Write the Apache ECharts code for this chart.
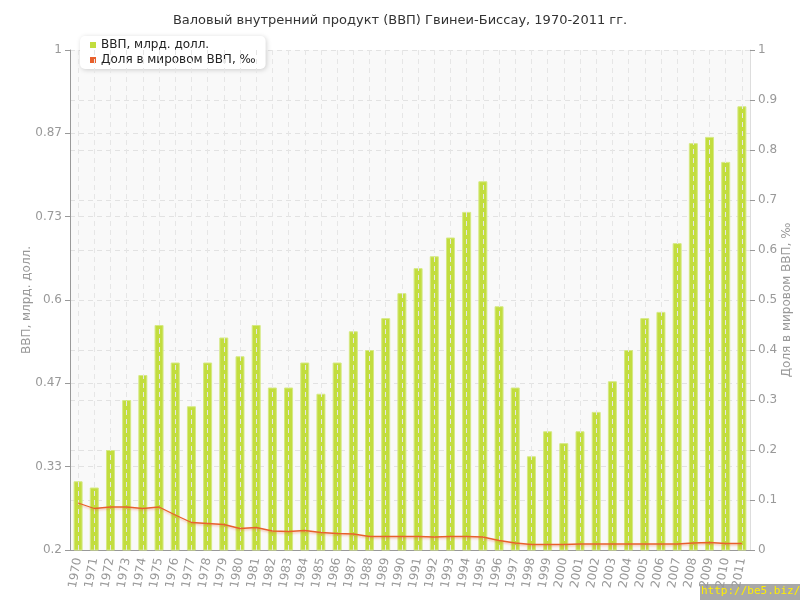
<!DOCTYPE html>
<html>
<head>
<meta charset="utf-8">
<script src="https://cdn.jsdelivr.net/npm/echarts@6/dist/echarts.min.js"></script>
<style>html,body{margin:0;padding:0;background:#fff}#c{width:800px;height:600px}</style>
</head>
<body>
<div id="c"></div>
<script>
var categories = ['1970','1971','1972','1973','1974','1975','1976','1977','1978','1979','1980','1981','1982','1983','1984','1985','1986','1987','1988','1989','1990','1991','1992','1993','1994','1995','1996','1997','1998','1999','2000','2001','2002','2003','2004','2005','2006','2007','2008','2009','2010','2011'];
var gdp = [0.310,0.300,0.360,0.440,0.480,0.560,0.500,0.430,0.500,0.540,0.510,0.560,0.460,0.460,0.500,0.450,0.500,0.550,0.520,0.571,0.611,0.651,0.670,0.700,0.741,0.790,0.590,0.460,0.350,0.390,0.371,0.390,0.421,0.470,0.520,0.571,0.581,0.691,0.851,0.861,0.821,0.910];
var share = [0.094,0.083,0.086,0.086,0.083,0.086,0.070,0.055,0.053,0.051,0.043,0.045,0.038,0.037,0.039,0.035,0.033,0.032,0.027,0.027,0.027,0.027,0.026,0.027,0.027,0.026,0.019,0.014,0.011,0.011,0.011,0.012,0.012,0.012,0.012,0.012,0.012,0.012,0.014,0.015,0.013,0.013];
var seriesNames = ['ВВП, млрд. долл.', 'Доля в мировом ВВП, ‰'];
var titleText = 'Валовый внутренний продукт (ВВП) Гвинеи-Биссау, 1970-2011 гг.';

var chart = echarts.init(document.getElementById('c'));
var font = 'DejaVu Sans, Verdana, sans-serif';
var vLines = categories.map(function (c) { return { xAxis: c }; });

chart.setOption({
  animation: false,
  textStyle: { fontFamily: font },
  title: {
    text: titleText, left: 'center', top: 9,
    textStyle: { fontSize: 13, fontWeight: 'normal', color: '#333', fontFamily: font }
  },
  legend: {
    orient: 'vertical', left: 80, top: 36,
    data: [
      { name: seriesNames[0], icon: 'rect', itemStyle: { color: '#c2dd3e', borderWidth: 0 } },
      { name: seriesNames[1], icon: 'rect', itemStyle: { color: '#e8602c', borderWidth: 0 } }
    ],
    backgroundColor: '#fff', borderRadius: 5,
    shadowBlur: 5, shadowColor: 'rgba(0,0,0,0.18)', shadowOffsetX: 1, shadowOffsetY: 1,
    padding: [3, 10, 3, 10], itemGap: 3,
    itemWidth: 6, itemHeight: 6,
    textStyle: { fontSize: 12, color: '#222', fontFamily: font }
  },
  grid: {
    left: 70, right: 50, top: 50, bottom: 50,
    outerBoundsMode: 'none', containLabel: false,
    show: true, backgroundColor: '#f9f9f9', borderWidth: 0
  },
  xAxis: {
    type: 'category', data: categories, boundaryGap: true,
    axisLine: { lineStyle: { color: '#999' } },
    axisTick: { alignWithLabel: true, length: 5, lineStyle: { color: '#999' } },
    axisLabel: { rotate: 80, color: '#999', fontSize: 12, interval: 0, margin: 8, fontFamily: font },
    splitLine: { show: false }
  },
  yAxis: [{
    type: 'value', min: 0.2, max: 1, interval: 0.8 / 6,
    axisLine: { show: true, lineStyle: { color: '#999' } },
    axisTick: { show: true, length: 5, lineStyle: { color: '#999' } },
    axisLabel: { color: '#999', fontSize: 12, fontFamily: font, formatter: function (v) { return String(parseFloat(v.toFixed(2))); } },
    splitLine: { show: true, lineStyle: { color: '#e2e2e2', type: [5, 4] } }
  }, {
    type: 'value', min: 0, max: 1, interval: 0.1,
    axisLine: { show: true, lineStyle: { color: '#ddd' } },
    axisTick: { show: true, length: 5, lineStyle: { color: '#999' } },
    axisLabel: { color: '#999', fontSize: 12, fontFamily: font, formatter: function (v) { return String(parseFloat(v.toFixed(2))); } },
    splitLine: { show: true, lineStyle: { color: '#e2e2e2', type: [5, 4] } }
  }],
  series: [{
    name: seriesNames[0], type: 'bar', data: gdp, yAxisIndex: 0,
    barWidth: 9,
    itemStyle: { color: '#c2dd3e', borderColor: '#d5e983', borderWidth: 1 },
    markLine: {
      silent: true, symbol: 'none', label: { show: false }, z: 5,
      lineStyle: { color: '#e6e6e6', type: [5, 4], width: 1, opacity: 1 },
      emphasis: { disabled: true },
      data: vLines
    }
  }, {
    name: seriesNames[1], type: 'line', data: share, yAxisIndex: 1,
    symbol: 'none', z: 6,
    lineStyle: { color: '#e8602c', width: 1.3, shadowColor: 'rgba(232,96,44,0.35)', shadowBlur: 2, shadowOffsetY: 1.5 },
    itemStyle: { color: '#e8602c' }
  }],
  graphic: [{
    type: 'text', x: 27, y: 300, rotation: Math.PI / 2,
    style: { text: seriesNames[0], fill: '#999', font: '12px DejaVu Sans, Verdana, sans-serif', align: 'center', verticalAlign: 'middle' }
  }, {
    type: 'text', x: 787, y: 300, rotation: Math.PI / 2,
    style: { text: seriesNames[1], fill: '#999', font: '12px DejaVu Sans, Verdana, sans-serif', align: 'center', verticalAlign: 'middle' }
  }, {
    type: 'rect', left: 700, top: 584, shape: { width: 100, height: 16 },
    style: { fill: '#a8a8a8' }
  }, {
    type: 'text', left: 701, top: 586,
    style: { text: 'http://be5.biz/', fill: '#ffee00', font: '11px DejaVu Sans Mono, monospace' }
  }]
});
</script>
</body>
</html>
